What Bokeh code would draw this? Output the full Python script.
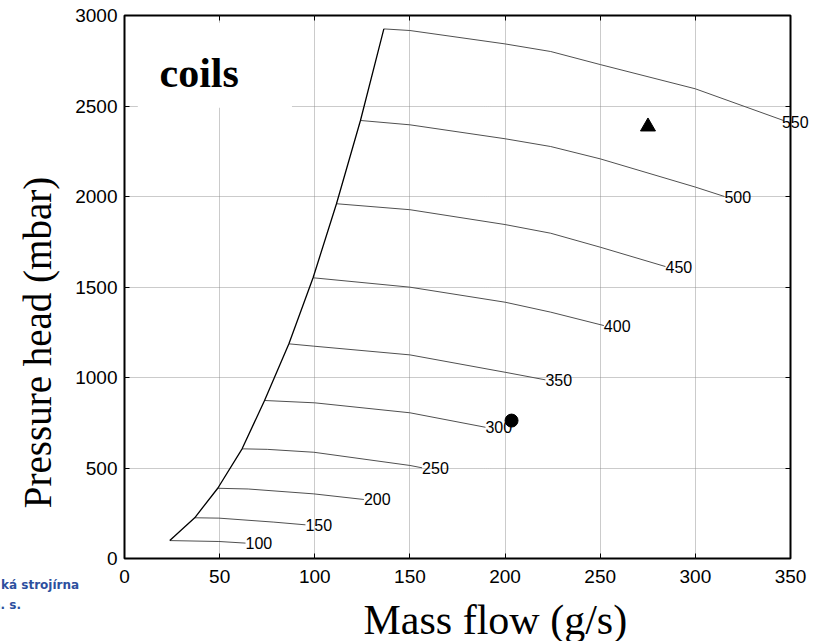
import math
from bokeh.plotting import figure
from bokeh.models import Range1d, FixedTicker, LinearAxis, Label, BoxAnnotation
from bokeh.embed import file_html
from bokeh.resources import INLINE
from bokeh.core.properties import value

# ---------------- data ----------------
x_ticks = [0, 50, 100, 150, 200, 250, 300, 350]
y_ticks = [0, 500, 1000, 1500, 2000, 2500, 3000]

speeds = [100, 150, 200, 250, 300, 350, 400, 450, 500, 550]

n100_x = [23.8, 49.6, 63.6]
n100_y = [99, 94, 85]
n150_x = [36.9, 49.6, 78.5, 95.1]
n150_y = [225, 223, 201, 186]
n200_x = [49.0, 65.0, 99.5, 125.8]
n200_y = [388, 384, 357, 326]
n250_x = [61.8, 75.0, 99.5, 150.0, 156.4]
n250_y = [606, 603, 587, 514, 501]
n300_x = [73.6, 100.0, 150.0, 189.7]
n300_y = [873, 860, 805, 725]
n350_x = [86.4, 99.5, 150.0, 200.0, 221.2]
n350_y = [1186, 1173, 1125, 1029, 987]
n400_x = [99.1, 150.0, 200.0, 224.0, 251.9]
n400_y = [1551, 1499, 1416, 1361, 1287]
n450_x = [111.4, 150.0, 200.0, 224.0, 250.0, 284.3]
n450_y = [1960, 1927, 1845, 1797, 1720, 1613]
n500_x = [124.0, 150.0, 200.0, 224.0, 250.0, 300.0, 315.3]
n500_y = [2420, 2396, 2319, 2276, 2208, 2052, 2000]
n550_x = [136.3, 150.0, 200.0, 224.0, 250.0, 300.0, 346.3]
n550_y = [2926, 2917, 2843, 2801, 2729, 2595, 2420]

point_triangle_x = [275.1]
point_triangle_y = [2386]
point_circle_x = [203.4]
point_circle_y = [762]

curves_x = [n100_x, n150_x, n200_x, n250_x, n300_x, n350_x, n400_x, n450_x, n500_x, n550_x]
curves_y = [n100_y, n150_y, n200_y, n250_y, n300_y, n350_y, n400_y, n450_y, n500_y, n550_y]

SANS = "Liberation Sans"
SERIF = "Liberation Serif"
LOGO = "DejaVu Sans"

FW, FH = 666, 543
X0, X1, Y0, Y1 = 0, 350, 0, 3000

# ---------------- figure ----------------
p = figure(frame_width=FW, frame_height=FH,
           x_range=Range1d(X0, X1), y_range=Range1d(Y0, Y1),
           output_backend="svg", toolbar_location=None,
           min_border_left=124, min_border_right=30,
           min_border_top=15, min_border_bottom=83)
p.background_fill_color = "white"
p.border_fill_color = "white"
p.outline_line_color = "black"
p.outline_line_width = 2

xt = FixedTicker(ticks=x_ticks)
yt = FixedTicker(ticks=y_ticks)

for ax, tk, sd in ((p.xaxis[0], xt, 11), (p.yaxis[0], yt, 7)):
    ax.ticker = tk
    ax.major_tick_in = 5
    ax.major_tick_out = 0
    ax.minor_tick_in = 0
    ax.minor_tick_out = 0
    ax.major_tick_line_color = "black"
    ax.axis_line_color = None
    ax.major_label_text_font = SANS
    ax.major_label_text_font_size = "19px"
    ax.major_label_text_color = "black"
    ax.major_label_standoff = sd

for loc, tk in (("above", xt), ("right", yt)):
    ax = LinearAxis(ticker=tk, major_tick_in=5, major_tick_out=0,
                    minor_tick_in=0, minor_tick_out=0,
                    axis_line_color=None, major_label_text_font_size="1px",
                    major_label_text_color=None,
                    major_label_standoff=0, major_tick_line_color="black")
    p.add_layout(ax, loc)

p.xgrid.ticker = xt
p.ygrid.ticker = yt
for g in (p.xgrid, p.ygrid):
    g.grid_line_color = "#8c8c8c"
    g.grid_line_dash = "1 1"
    g.grid_line_alpha = 0.9
    g.grid_line_width = 1

# white box behind "coils"
p.add_layout(BoxAnnotation(left=7, right=88, bottom=2490, top=2960,
                           fill_color="white", fill_alpha=1.0,
                           line_color=None, level="underlay"))

# speed lines
for xs, ys in zip(curves_x, curves_y):
    p.line(xs, ys, line_color="#505050", line_width=1)

# surge line through the start of each speed line
surge_x = [c[0] for c in curves_x]
surge_y = [c[0] for c in curves_y]
p.line(surge_x, surge_y, line_color="black", line_width=1.3)

# speed labels at line ends (the last one overhangs the frame -> side panel)
p.text(x=[c[-1] for c in curves_x[:-1]], y=[c[-1] for c in curves_y[:-1]],
       text=[str(s) for s in speeds[:-1]], text_font=value(SANS),
       text_font_size="16px", text_align="left", text_baseline="middle",
       text_color="black")

sx_last = (curves_x[-1][-1] - X0) / (X1 - X0) * FW
sy_last = (curves_y[-1][-1] - Y0) / (Y1 - Y0) * FH
p.add_layout(Label(x=sx_last - FW - 1.5, y=sy_last - 1.5,
                   x_units="screen", y_units="screen",
                   text=str(speeds[-1]), text_font=SANS,
                   text_font_size="16px", text_align="left",
                   text_baseline="middle", text_color="black"), "right")

p.scatter(point_triangle_x, point_triangle_y, marker="triangle", size=15,
          fill_color="black", line_color="black")
p.scatter(point_circle_x, point_circle_y, marker="circle", size=13,
          fill_color="black", line_color="black")

p.add_layout(Label(x=18.4, y=2680, text="coils", text_font=SERIF,
                   text_font_style="bold", text_font_size="42px",
                   text_align="left", text_baseline="middle",
                   text_color="black"))

# axis titles (side-panel labels, not clipped to the frame)
p.add_layout(Label(x=7.5, y=216, x_units="screen", y_units="screen",
                   angle=math.pi / 2, text="Pressure head (mbar)",
                   text_font=SERIF, text_font_size="39px",
                   text_align="center", text_baseline="middle",
                   text_color="black"), "left")
p.add_layout(Label(x=239, y=12, x_units="screen", y_units="screen",
                   text="Mass flow (g/s)", text_font=SERIF,
                   text_font_size="42px", text_align="left",
                   text_baseline="middle", text_color="black"), "below")

# partially visible logo text
p.add_layout(Label(x=-123.5, y=-569.6, x_units="screen", y_units="screen",
                   text="ká strojírna", text_font=LOGO,
                   text_font_style="bold", text_font_size="12px",
                   text_color="#2d4f9e", text_baseline="middle"), "above")
p.add_layout(Label(x=-8, y=-46.6, x_units="screen", y_units="screen",
                   text="a. s.", text_font=LOGO,
                   text_font_style="bold", text_font_size="12px",
                   text_color="#2d4f9e", text_baseline="middle"), "left")

open("out.html", "w").write(file_html(p, INLINE))
